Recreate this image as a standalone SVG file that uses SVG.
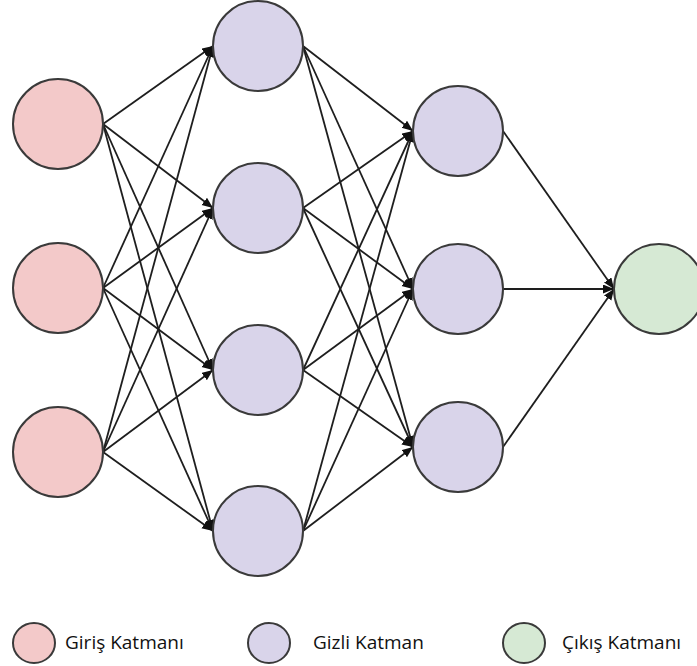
<svg xmlns="http://www.w3.org/2000/svg" width="697" height="666" viewBox="0 0 697 666">
<style>
.edge{stroke:#1e1e1e;stroke-width:1.8;fill:none;marker-end:url(#ah)}
.node{stroke:#3a3a3a;stroke-width:2}
.in{fill:#f3c9c9}
.hid{fill:#d9d4ea}
.out{fill:#d6e9d4}
.lbl{font-family:"Open Sans","Noto Sans",sans-serif;font-size:19px;fill:#111}
</style>
<defs>
<marker id="ah" markerUnits="userSpaceOnUse" markerWidth="12" markerHeight="10" refX="11" refY="4.5" orient="auto">
<path d="M0,0 L11,4.5 L0,9 z" fill="#111"/>
</marker>
</defs>
<rect width="697" height="666" fill="#fff"/>
<g id="connectors">
<line class="edge" x1="103" y1="124" x2="213" y2="46"/>
<line class="edge" x1="103" y1="124" x2="213" y2="208"/>
<line class="edge" x1="103" y1="124" x2="213" y2="370"/>
<line class="edge" x1="103" y1="124" x2="213" y2="531"/>
<line class="edge" x1="103" y1="288" x2="213" y2="46"/>
<line class="edge" x1="103" y1="288" x2="213" y2="208"/>
<line class="edge" x1="103" y1="288" x2="213" y2="370"/>
<line class="edge" x1="103" y1="288" x2="213" y2="531"/>
<line class="edge" x1="103" y1="452" x2="213" y2="46"/>
<line class="edge" x1="103" y1="452" x2="213" y2="208"/>
<line class="edge" x1="103" y1="452" x2="213" y2="370"/>
<line class="edge" x1="103" y1="452" x2="213" y2="531"/>
<line class="edge" x1="303" y1="46" x2="413" y2="131"/>
<line class="edge" x1="303" y1="46" x2="413" y2="289"/>
<line class="edge" x1="303" y1="46" x2="413" y2="447"/>
<line class="edge" x1="303" y1="208" x2="413" y2="131"/>
<line class="edge" x1="303" y1="208" x2="413" y2="289"/>
<line class="edge" x1="303" y1="208" x2="413" y2="447"/>
<line class="edge" x1="303" y1="370" x2="413" y2="131"/>
<line class="edge" x1="303" y1="370" x2="413" y2="289"/>
<line class="edge" x1="303" y1="370" x2="413" y2="447"/>
<line class="edge" x1="303" y1="531" x2="413" y2="131"/>
<line class="edge" x1="303" y1="531" x2="413" y2="289"/>
<line class="edge" x1="303" y1="531" x2="413" y2="447"/>
<line class="edge" x1="503" y1="131" x2="614" y2="289"/>
<line class="edge" x1="503" y1="289" x2="614" y2="289"/>
<line class="edge" x1="503" y1="447" x2="614" y2="289"/>
</g>
<g id="in1"><circle class="node in" cx="58" cy="124" r="45"/></g>
<g id="in2"><circle class="node in" cx="58" cy="288" r="45"/></g>
<g id="in3"><circle class="node in" cx="58" cy="452" r="45"/></g>
<g id="h1a"><circle class="node hid" cx="258" cy="46" r="45"/></g>
<g id="h1b"><circle class="node hid" cx="258" cy="208" r="45"/></g>
<g id="h1c"><circle class="node hid" cx="258" cy="370" r="45"/></g>
<g id="h1d"><circle class="node hid" cx="258" cy="531" r="45"/></g>
<g id="h2a"><circle class="node hid" cx="458" cy="131" r="45"/></g>
<g id="h2b"><circle class="node hid" cx="458" cy="289" r="45"/></g>
<g id="h2c"><circle class="node hid" cx="458" cy="447" r="45"/></g>
<g id="out1"><circle class="node out" cx="659" cy="289" r="45"/></g>
<g id="legend-in"><ellipse class="node in" cx="34" cy="643" rx="21" ry="20"/><text class="lbl" x="65" y="649">Giriş Katmanı</text></g>
<g id="legend-hid"><ellipse class="node hid" cx="269" cy="643" rx="21" ry="20"/><text class="lbl" x="313" y="649">Gizli Katman</text></g>
<g id="legend-out"><ellipse class="node out" cx="524" cy="643" rx="21" ry="20"/><text class="lbl" x="562" y="649">Çıkış Katmanı</text></g>
</svg>
